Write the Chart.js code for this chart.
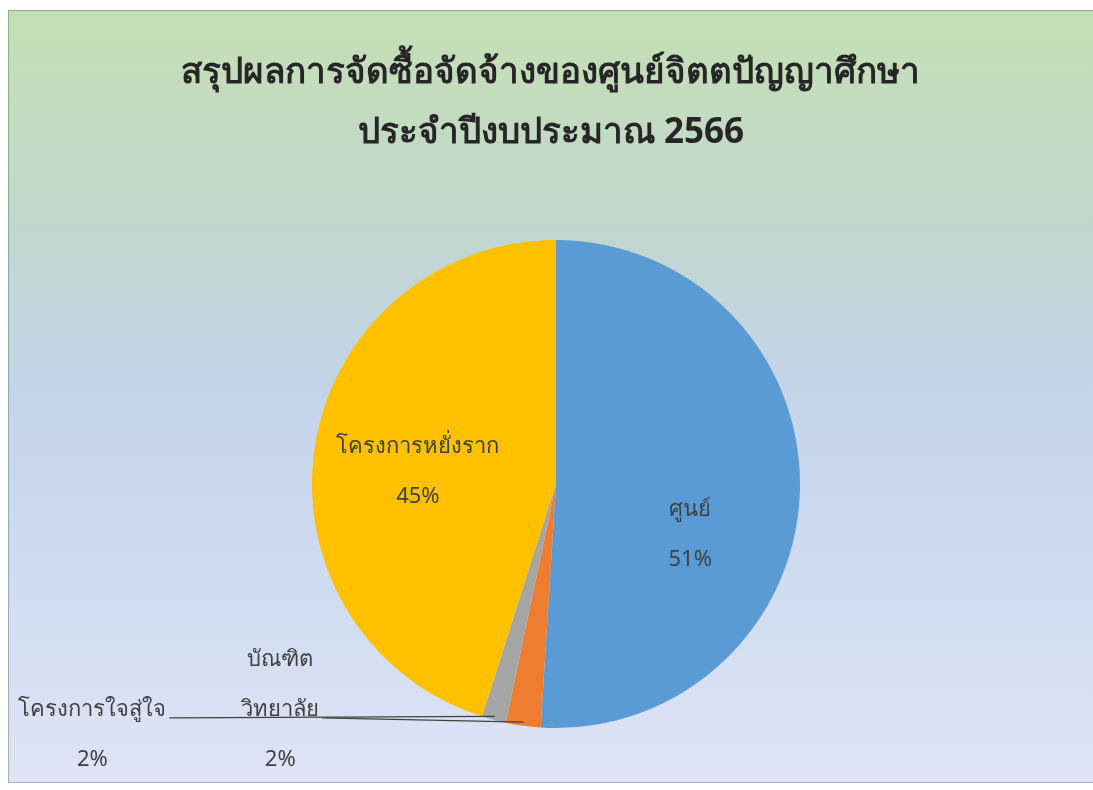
<!DOCTYPE html>
<html lang="th">
<head>
<meta charset="UTF-8">
<title>สรุปผลการจัดซื้อจัดจ้าง</title>
<script src="https://cdn.jsdelivr.net/npm/chart.js"></script>
<style>
  body { margin: 0; background: #ffffff; }
  #wrap { width: 1093px; height: 790px; }
</style>
</head>
<body>
<div id="wrap"><canvas id="pie" width="1093" height="790"></canvas></div>
<script>
// --- data ---
const categories = ['ศูนย์', 'บัณฑิตวิทยาลัย', 'โครงการใจสู่ใจ', 'โครงการหยั่งราก'];
const labelLines = [['ศูนย์'], ['บัณฑิต', 'วิทยาลัย'], ['โครงการใจสู่ใจ'], ['โครงการหยั่งราก']];
const shares = [51, 2.3, 1.6, 45.1];
const sliceColors = ['#5B9BD5', '#ED7D31', '#A5A5A5', '#FFC000'];
const titleLines = ['สรุปผลการจัดซื้อจัดจ้างของศูนย์จิตตปัญญาศึกษา', 'ประจำปีงบประมาณ 2566'];

const FONT = '"Noto Sans", "DejaVu Sans", sans-serif';

// background panel + title
const backdrop = {
  id: 'backdrop',
  beforeDraw(chart) {
    const c = chart.ctx;
    c.save();
    const g = c.createLinearGradient(0, 10, 0, 783);
    g.addColorStop(0, '#c5dfb4');
    g.addColorStop(0.28, '#c1d7cd');
    g.addColorStop(0.5, '#c4d4ea');
    g.addColorStop(0.75, '#d0dcf0');
    g.addColorStop(1, '#dfe4f6');
    c.fillStyle = g;
    c.fillRect(8, 10, 1085, 773);
    c.strokeStyle = 'rgba(60,80,60,0.35)';
    c.lineWidth = 1;
    c.strokeRect(8.5, 10.5, 1090, 772);
    c.fillStyle = '#262626';
    c.textAlign = 'center';
    c.textBaseline = 'middle';
    c.font = 'bold 35px ' + FONT;
    c.fillText(titleLines[0], 550, 73);
    c.fillText(titleLines[1], 551, 133);
    c.restore();
  }
};

// data labels with leader lines
const sliceLabels = {
  id: 'sliceLabels',
  afterDraw(chart) {
    const c = chart.ctx;
    const meta = chart.getDatasetMeta(0);
    const total = shares.reduce((a, b) => a + b, 0);
    // anchor of the last name line, in pie radii from the centre
    const spots = [
      { dx: 0.55, dy: 0.107 },
      { dx: -1.13, dy: 0.926, leader: true },
      { dx: -1.9, dy: 0.926, leader: true },
      { dx: -0.566, dy: -0.152 }
    ];
    c.save();
    c.font = '22px ' + FONT;
    c.fillStyle = '#404040';
    c.textAlign = 'center';
    c.textBaseline = 'middle';
    meta.data.forEach((arc, i) => {
      const R = arc.outerRadius;
      const x = arc.x + spots[i].dx * R;
      const y = arc.y + spots[i].dy * R;
      const lines = labelLines[i];
      lines.forEach((t, k) => {
        c.fillText(t, x, y - (lines.length - 1 - k) * 50);
      });
      c.fillText(Math.round(shares[i] / total * 100) + '%', x, y + 50);
      if (spots[i].leader) {
        const w = c.measureText(lines[lines.length - 1]).width;
        const mid = (arc.startAngle + arc.endAngle) / 2;
        const ex = arc.x + Math.cos(mid) * R * 0.985;
        const ey = arc.y + Math.sin(mid) * R * 0.985;
        c.strokeStyle = '#404040';
        c.lineWidth = 1.2;
        c.beginPath();
        c.moveTo(x + w / 2 + 3, y + 8);
        c.lineTo(ex, ey);
        c.stroke();
      }
    });
    c.restore();
  }
};

new Chart(document.getElementById('pie').getContext('2d'), {
  type: 'pie',
  data: {
    labels: categories,
    datasets: [{
      data: shares,
      backgroundColor: sliceColors,
      borderWidth: 0
    }]
  },
  options: {
    responsive: false,
    animation: false,
    devicePixelRatio: 1,
    layout: { padding: { left: 312, right: 293, top: 240, bottom: 62 } },
    plugins: {
      legend: { display: false },
      tooltip: { enabled: false },
      title: { display: false }
    }
  },
  plugins: [backdrop, sliceLabels]
});
</script>
</body>
</html>
